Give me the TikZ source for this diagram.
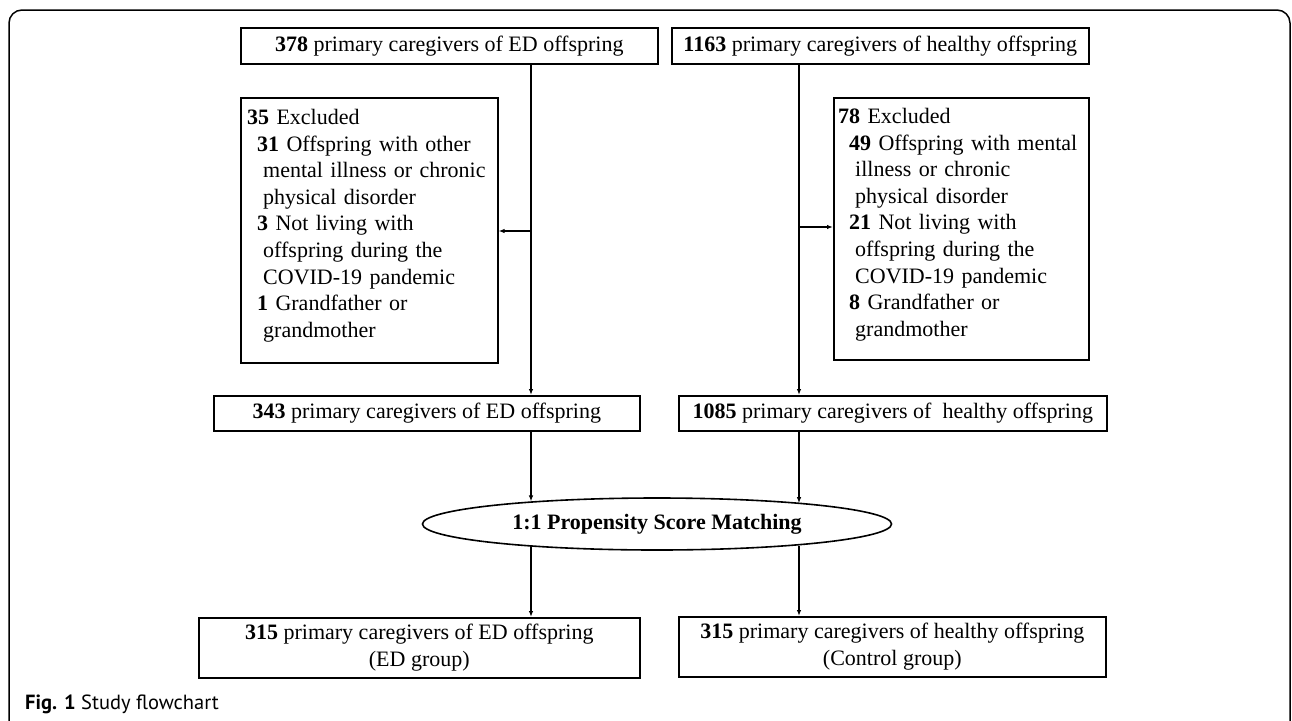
\documentclass[tikz,border=0pt]{standalone}
\usepackage{fontspec}
\setmainfont{Liberation Serif}
\newfontfamily\capfont{PT Sans}
\usetikzlibrary{arrows.meta,shapes.geometric}
\begin{document}
\begin{tikzpicture}[x=1pt,y=-1pt,
  box/.style={draw, line width=1.6pt, inner sep=0pt, anchor=north west,
    font=\fontsize{22}{26.6}\selectfont},
  extext/.style={inner sep=0pt, anchor=north west, align=left, text width=240pt,
    font=\fontsize{22}{26.6}\selectfont},
  arr/.style={line width=1.3pt, -{Latex[length=6pt,width=4.5pt]}},
  frame/.style={line width=1.5pt, rounded corners=13pt}]
\useasboundingbox (0,0) rectangle (1292,720);
\draw[frame] (9,740) -- (9,10) -- (1290,10) -- (1290,740);

\node[box, minimum width=417pt, minimum height=36pt] (a1) at (240,27)
  {\textbf{378} primary caregivers of ED offspring};
\node[box, minimum width=417pt, minimum height=36pt] (a2) at (671,27)
  {\textbf{1163} primary caregivers of healthy offspring};

\node[box, minimum width=257pt, minimum height=265pt] (e1) at (240,97) {};
\node[extext] (e1t) at (247,109)
  {\textbf{35} Excluded\\
   \hspace*{10pt}\textbf{31} Offspring with other\\
   \hspace*{16pt}mental illness or chronic\\
   \hspace*{16pt}physical disorder\\
   \hspace*{10pt}\textbf{3} Not living with\\
   \hspace*{16pt}offspring during the\\
   \hspace*{16pt}COVID-19 pandemic\\
   \hspace*{10pt}\textbf{1} Grandfather or\\
   \hspace*{16pt}grandmother};
\node[box, minimum width=255pt, minimum height=262pt] (e2) at (833,97) {};
\node[extext] (e2t) at (838,108)
  {\textbf{78} Excluded\\
   \hspace*{11pt}\textbf{49} Offspring with mental\\
   \hspace*{17pt}illness or chronic\\
   \hspace*{17pt}physical disorder\\
   \hspace*{11pt}\textbf{21} Not living with\\
   \hspace*{17pt}offspring during the\\
   \hspace*{17pt}COVID-19 pandemic\\
   \hspace*{11pt}\textbf{8} Grandfather or\\
   \hspace*{17pt}grandmother};

\node[box, minimum width=426pt, minimum height=35pt] (b1) at (213,395)
  {\textbf{343} primary caregivers of ED offspring};
\node[box, minimum width=428pt, minimum height=35pt] (b2) at (678,395)
  {\textbf{1085} primary caregivers of\ \ healthy offspring};

\node[ellipse, draw, line width=1.6pt, inner sep=0pt, minimum width=469pt, minimum height=52pt,
  font=\bfseries\fontsize{22}{26}\selectfont] (m) at (657,524) {1:1 Propensity Score Matching};

\node[box, align=center, minimum width=441pt, minimum height=60pt] (c1) at (198,617)
  {\textbf{315} primary caregivers of ED offspring\\(ED group)};
\node[box, align=center, minimum width=427pt, minimum height=60pt] (c2) at (678,616)
  {\textbf{315} primary caregivers of healthy offspring\\(Control group)};

\coordinate (L) at (531,0);
\coordinate (R) at (799,0);
\coordinate (jl) at (531,231);
\coordinate (jr) at (799,227);

\draw[arr] (a1.south -| L) -- (b1.north -| L);
\draw[arr] (jl) -- (e1.east |- jl);
\draw[arr] (a2.south -| R) -- (b2.north -| R);
\draw[arr] (jr) -- (e2.west |- jr);
\draw[arr] (b1.south -| L) -- (L |- m.170.1);
\draw[arr] (b2.south -| R) -- (R |- m.8.3);
\draw[arr] (L |- m.189.9) -- (c1.north -| L);
\draw[arr] (R |- m.351.7) -- (c2.north -| R);

\node[anchor=base west, inner sep=0pt, font=\capfont\fontsize{20.5}{24}\selectfont] (cap) at (25,709)
  {\textbf{Fig. 1} Study flowchart};
\end{tikzpicture}
\end{document}
